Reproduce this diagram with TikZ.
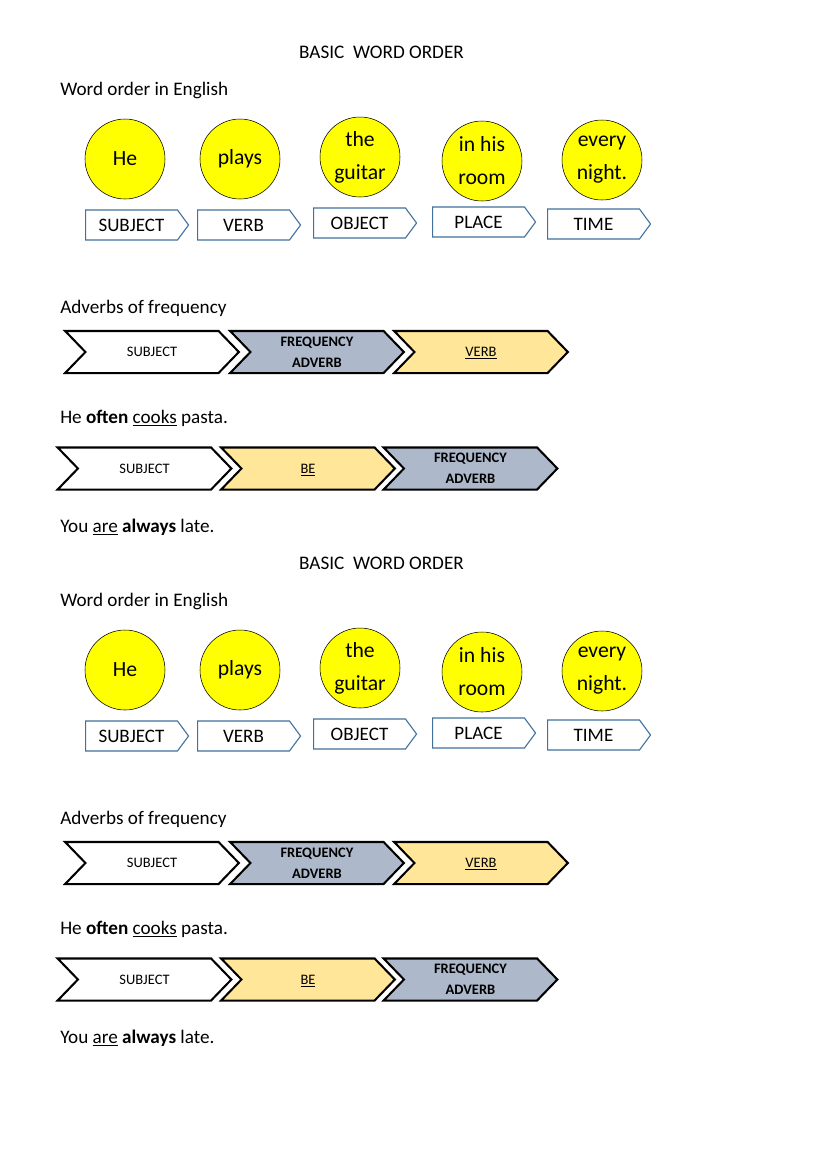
\documentclass[tikz,border=0pt]{standalone}
\usepackage{fontspec}
\setmainfont{Carlito}
\usetikzlibrary{shapes.symbols}
\definecolor{sunyellow}{RGB}{255,255,0}
\definecolor{tagline}{RGB}{65,113,156}
\definecolor{grayblue}{RGB}{173,185,202}
\definecolor{paleyellow}{RGB}{255,230,153}

\tikzset{
  txt/.style={inner sep=0pt, anchor=base west, font=\fontsize{13.9}{16}\selectfont},
  ball/.style={shape=circle, draw=black, fill=sunyellow, minimum size=58pt, inner sep=0pt, align=center, font=\fontsize{15.7}{24}\selectfont},
  tag/.style={shape=signal, signal to=east, signal pointer angle=107, draw=tagline, line width=0.8pt, fill=white, minimum width=74.7pt, minimum height=21.8pt, anchor=west, inner sep=0pt, font=\fontsize{13.8}{16}\selectfont},
  chev/.style={shape=signal, signal from=west, signal to=east, signal pointer angle=92, draw=black, line width=1.5pt, minimum width=126pt, minimum height=30.5pt, inner sep=0pt, align=center, font=\fontsize{10.5}{15}\selectfont}
}
% underlined word that keeps the caps centred in its box
\newcommand{\ulword}[1]{\raisebox{0pt}[\height][0pt]{\underline{#1}}}

\begin{document}
\begin{tikzpicture}[x=0.7252pt, y=-0.7252pt]
\fill[white] (0,0) rectangle (821,1161);
\useasboundingbox (0,0) rectangle (821,1161);

% the same sheet is printed twice
\foreach \h/\dy in {a/0, b/511}{
\begin{scope}[shift={(0,\dy)}]
\node[txt, anchor=base] (title\h) at (381.5,58) {BASIC\ \ WORD ORDER};
\node[txt] (order\h) at (60,95) {Word order in English};

\node[ball] (he\h) at (125,159) {He};
\node[ball] (plays\h) at (240,159) {plays};
\node[ball] (guitar\h) at (360,157) {the\\guitar};
\node[ball] (room\h) at (482,161) {in his\\room};
\node[ball] (night\h) at (602,160) {every\\night.};

\node[tag] (subject\h) at (85,225) {SUBJECT};
\node[tag] (verb\h) at (197,225) {VERB};
\node[tag] (object\h) at (313,223) {OBJECT};
\node[tag] (place\h) at (432,222) {PLACE};
\node[tag] (time\h) at (547,224) {TIME};

\node[txt] (adverbs\h) at (60,313) {Adverbs of frequency};
\node[chev, fill=white] (subjA\h) at (152,352) {SUBJECT};
\node[chev, fill=grayblue] (freqA\h) at (317,352) {\textbf{FREQUENCY}\\\textbf{ADVERB}};
\node[chev, fill=paleyellow] (verbA\h) at (481,352) {\ulword{VERB}};

\node[txt] (cooks\h) at (60,423) {He \textbf{often} \underline{cooks} pasta.};
\node[chev, fill=white] (subjB\h) at (144.5,468.5) {SUBJECT};
\node[chev, fill=paleyellow] (beB\h) at (308,468.5) {\ulword{BE}};
\node[chev, fill=grayblue] (freqB\h) at (470.5,468.5) {\textbf{FREQUENCY}\\\textbf{ADVERB}};

\node[txt] (late\h) at (60,532) {You \underline{are} \textbf{always} late.};
\end{scope}
}
\end{tikzpicture}
\end{document}
